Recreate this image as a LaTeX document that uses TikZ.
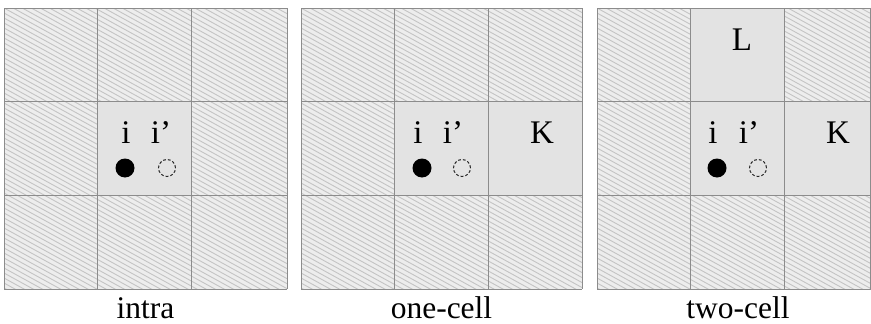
\documentclass[tikz,border=0pt]{standalone}
\usepackage{fontspec}
\setmainfont{Liberation Serif}
\definecolor{hbg}{HTML}{EDEDED}
\definecolor{hln}{HTML}{C4C4C4}
\definecolor{plaincell}{HTML}{E3E3E3}
\definecolor{gline}{HTML}{8C8C8C}
\tikzset{
  hatchline/.style={hln, line width=0.9pt},
  plainfill/.style={fill=plaincell},
  gridline/.style={gline, line width=1pt},
  lbl/.style={font=\fontsize{33}{33}\selectfont, inner sep=0pt, anchor=base},
  caption/.style={font=\fontsize{31.5}{31.5}\selectfont, inner sep=0pt, anchor=base},
  solidpt/.style={circle, fill=black, minimum size=19pt, inner sep=0pt},
  ghostpt/.style={circle, draw=black!85, dash pattern=on 2.8pt off 2pt, line width=1pt, minimum size=17pt, inner sep=0pt},
}
\newcommand\hatchpanel[2]{% #1 left x, #2 width
  \fill[hbg] (#1,8) rectangle ++(#2,281);
  \begin{scope}
    \clip (#1,8) rectangle ++(#2,281);
    \foreach \k in {-160,-155,...,290} \draw[hatchline] (#1,8+\k) -- ++(#2,0.55*#2);
  \end{scope}
}
\newcommand\gridlines[2]{% #1 left x, #2 right x
  \foreach \gx in {#1, #1+93.8, #1+187.6} \draw[gridline] (\gx,8) -- (\gx,289);
  \draw[gridline] (#2,8) -- (#2,289);
  \foreach \gy in {8, 101.8, 195.6, 289} \draw[gridline] (#1,\gy) -- (#2,\gy);
}
\begin{document}
\begin{tikzpicture}[x=1pt,y=-1pt]
\useasboundingbox (0,0) rectangle (871,324);
\fill[white] (0,0) rectangle (871,324);
% ---------- panel 1: intra ----------
\hatchpanel{4}{283}
\fill[plainfill] (97.8,101.8) rectangle ++(93.8,93.8);
\gridlines{4}{287}
\node[lbl] (ia) at (126,143) {i};
\node[lbl] (ipa) at (161,143) {i’};
\node[solidpt] (pa) at (125,168) {};
\node[ghostpt] (qa) at (167,168) {};
\node[caption] (ca) at (145.5,318) {intra};
% ---------- panel 2: one-cell ----------
\hatchpanel{301}{281}
\fill[plainfill] (394.8,101.8) rectangle ++(187.2,93.8);
\gridlines{301}{582}
\node[lbl] (ib) at (418,143) {i};
\node[lbl] (ipb) at (453,143) {i’};
\node[solidpt] (pb) at (422,168) {};
\node[ghostpt] (qb) at (462,168) {};
\node[lbl] (kb) at (542,143) {K};
\node[caption] (cb) at (441.5,318) {one-cell};
% ---------- panel 3: two-cell ----------
\hatchpanel{597}{274}
\fill[plainfill] (690.8,101.8) rectangle ++(180.2,93.8);
\fill[plainfill] (690.8,8) rectangle ++(93.8,93.8);
\gridlines{597}{870.5}
\node[lbl] (ic) at (713,143) {i};
\node[lbl] (ipc) at (749,143) {i’};
\node[solidpt] (pc) at (717,168) {};
\node[ghostpt] (qc) at (758,168) {};
\node[lbl] (kc) at (838,143) {K};
\node[lbl] (lc) at (742,50) {L};
\node[caption] (cc) at (738,318) {two-cell};
\end{tikzpicture}
\end{document}
